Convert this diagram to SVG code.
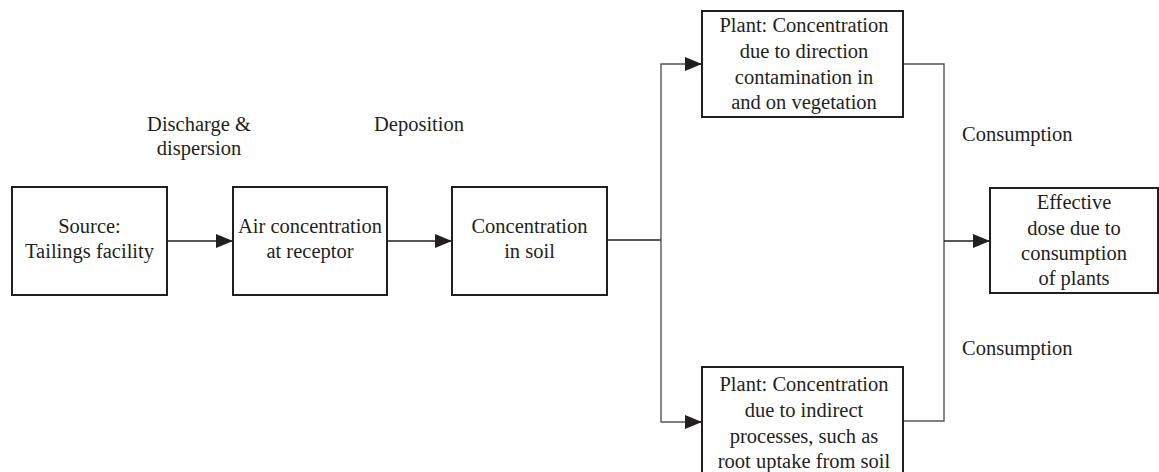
<svg xmlns="http://www.w3.org/2000/svg" width="1159" height="472" viewBox="0 0 1159 472">
<style>
.box{fill:#fff;stroke:#231f20;stroke-width:2}
.t{font-size:20.5px;fill:#231f20;text-anchor:middle}
.l{font-size:20.5px;fill:#231f20}
.c{fill:none;stroke:#231f20;stroke-width:1.6}
.g{fill:none;stroke:#555;stroke-width:1.4}
</style>
<defs>
<marker id="ah" markerWidth="17" markerHeight="14" refX="17" refY="7" orient="auto" markerUnits="userSpaceOnUse">
<path d="M0,0 L17,7 L0,14 Z" fill="#231f20"/>
</marker>
</defs>
<rect width="1159" height="472" fill="#fff"/>
<g id="connectors">
<line class="c" x1="167" y1="241" x2="233" y2="241" marker-end="url(#ah)"/>
<line class="c" x1="387" y1="241" x2="452" y2="241" marker-end="url(#ah)"/>
<line class="c" x1="607" y1="240" x2="661" y2="240"/>
<polyline class="g" points="702,64 661,64 661,422 702,422"/>
<line class="c" x1="685" y1="64" x2="702" y2="64" marker-end="url(#ah)"/>
<line class="c" x1="685" y1="422" x2="702" y2="422" marker-end="url(#ah)"/>
<polyline class="g" points="903,64 944,64 944,421 903,421"/>
<line class="c" x1="944" y1="241" x2="990" y2="241" marker-end="url(#ah)"/>
</g>
<g font-family="Liberation Serif, Times New Roman, serif">
<g id="labels">
<text class="t" x="199" y="131">Discharge &amp;</text>
<text class="t" x="199" y="155">dispersion</text>
<text class="t" x="419" y="131">Deposition</text>
<text class="l" x="962" y="141">Consumption</text>
<text class="l" x="962" y="355">Consumption</text>
</g>
<g id="source">
<rect class="box" x="12" y="187" width="155" height="108"/>
<text class="t" x="89.5" y="233">Source:</text>
<text class="t" x="89.5" y="258">Tailings facility</text>
</g>
<g id="air">
<rect class="box" x="233" y="187" width="154" height="108"/>
<text class="t" x="310" y="233">Air concentration</text>
<text class="t" x="310" y="258">at receptor</text>
</g>
<g id="soil">
<rect class="box" x="452" y="187" width="155" height="108"/>
<text class="t" x="529.5" y="233">Concentration</text>
<text class="t" x="529.5" y="258">in soil</text>
</g>
<g id="plant-direct">
<rect class="box" x="702" y="11" width="201" height="106"/>
<text class="t" x="804" y="32">Plant: Concentration</text>
<text class="t" x="804" y="58">due to direction</text>
<text class="t" x="804" y="84">contamination in</text>
<text class="t" x="804" y="109">and on vegetation</text>
</g>
<g id="plant-indirect">
<rect class="box" x="702" y="367" width="201" height="112"/>
<text class="t" x="804" y="391">Plant: Concentration</text>
<text class="t" x="804" y="417">due to indirect</text>
<text class="t" x="804" y="443">processes, such as</text>
<text class="t" x="804" y="468">root uptake from soil</text>
</g>
<g id="dose">
<rect class="box" x="990" y="188" width="168" height="105"/>
<text class="t" x="1074" y="209">Effective</text>
<text class="t" x="1074" y="235">dose due to</text>
<text class="t" x="1074" y="260">consumption</text>
<text class="t" x="1074" y="285">of plants</text>
</g>
</g>
</svg>
